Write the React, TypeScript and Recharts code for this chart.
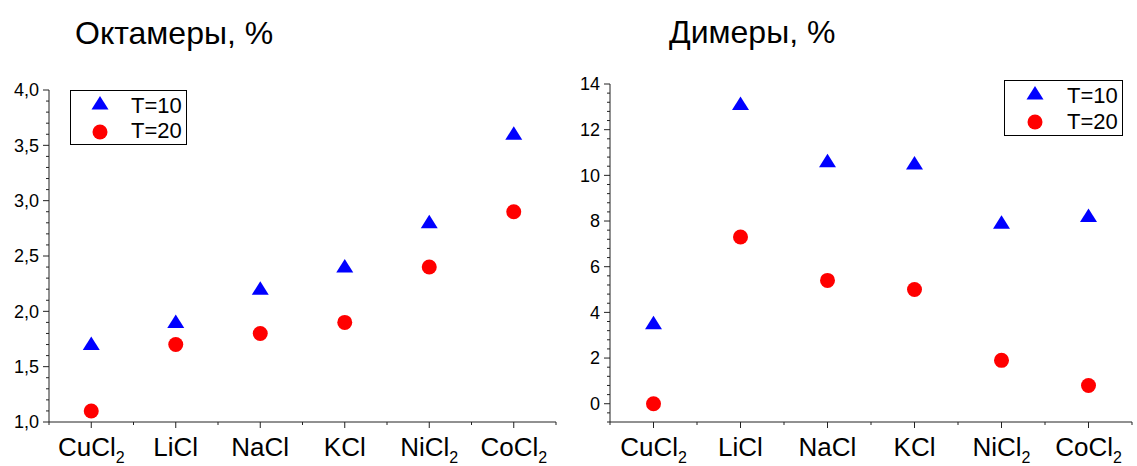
import React from 'react';
import { ScatterChart, Scatter, XAxis, YAxis, Legend } from 'recharts';

const categories = ['CuCl2', 'LiCl', 'NaCl', 'KCl', 'NiCl2', 'CoCl2'];
const seriesNames = ['T=10', 'T=20'];

const octT10 = [1.7, 1.9, 2.2, 2.4, 2.8, 3.6];
const octT20 = [1.1, 1.7, 1.8, 1.9, 2.4, 2.9];

const dimT10 = [3.5, 13.1, 10.6, 10.5, 7.9, 8.2];
const dimT20 = [0.0, 7.3, 5.4, 5.0, 1.9, 0.8];

const octMajorTicks = [1.0, 1.5, 2.0, 2.5, 3.0, 3.5, 4.0];
const octMajorLabels = ['1,0', '1,5', '2,0', '2,5', '3,0', '3,5', '4,0'];
const octMinorStep = 0.1;
const octDomain: [number, number] = [1.0, 4.0];

const dimMajorTicks = [0, 2, 4, 6, 8, 10, 12, 14];
const dimMajorLabels = ['0', '2', '4', '6', '8', '10', '12', '14'];
const dimMinorStep = 0.4;
const dimDomain: [number, number] = [-0.8, 14];

const titles = ['Октамеры, %', 'Димеры, %'];

const FONT = '"Liberation Sans", Arial, sans-serif';
const AXIS = '#222';
const BLUE = '#0000ff';
const RED = '#ff0000';

const toData = (vals: number[]) => vals.map((v, i) => ({ x: i + 1, y: v }));

const buildTicks = (domain: [number, number], step: number) => {
  const out: number[] = [];
  const n = Math.round((domain[1] - domain[0]) / step);
  for (let i = 0; i <= n; i++) out.push(Math.round((domain[0] + i * step) * 1000) / 1000);
  return out;
};

const xTicks: number[] = [];
for (let i = 0; i <= categories.length * 2; i++) xTicks.push(0.5 + i * 0.5);

const Triangle = (props: any) => {
  const { cx, cy } = props;
  if (cx == null || cy == null) return null;
  return <polygon points={`${cx},${cy - 8} ${cx + 8.5},${cy + 5.5} ${cx - 8.5},${cy + 5.5}`} fill={BLUE} />;
};
const Dot = (props: any) => {
  const { cx, cy } = props;
  if (cx == null || cy == null) return null;
  return <circle cx={cx} cy={cy} r={7.5} fill={RED} />;
};

const makeYTick = (majors: number[], labels: string[]) => (props: any) => {
  const { x, y, payload } = props;
  const v = payload.value;
  const idx = majors.findIndex((m) => Math.abs(m - v) < 1e-6);
  return (
    <g>
      <line x1={x} x2={x - (idx >= 0 ? 6 : 3)} y1={y} y2={y} stroke={AXIS} strokeWidth={1} />
      {idx >= 0 && (
        <text x={x - 10} y={y} dy="0.35em" textAnchor="end" fontSize={18} fontFamily={FONT} fill="#000">
          {labels[idx]}
        </text>
      )}
    </g>
  );
};

const XTick = (props: any) => {
  const { x, y, payload } = props;
  const v = payload.value;
  const isMajor = Math.abs(v - Math.round(v)) < 1e-6;
  const label = isMajor ? categories[Math.round(v) - 1] : null;
  let main = '';
  let sub = '';
  if (label) {
    const m = label.match(/^(.*?)(\d+)$/);
    if (m) {
      main = m[1];
      sub = m[2];
    } else main = label;
  }
  return (
    <g>
      <line x1={x} x2={x} y1={y} y2={y + (isMajor ? 6 : 3)} stroke={AXIS} strokeWidth={1} />
      {label && (
        <text x={x} y={y + 34} textAnchor="middle" fontSize={26} fontFamily={FONT} fill="#000">
          <tspan>{main}</tspan>
          {sub && (
            <tspan dy={7} fontSize={16}>
              {sub}
            </tspan>
          )}
        </text>
      )}
    </g>
  );
};

const LegendBox = ({ w, h, tx, triY, dotY, textX, t1, t2 }: any) => (
  <svg width={w} height={h} style={{ display: 'block' }}>
    <rect x={0.5} y={0.5} width={w - 1} height={h - 1} fill="#fff" stroke="#000" strokeWidth={1} />
    <polygon points={`${tx},${triY - 8} ${tx + 8.5},${triY + 5.5} ${tx - 8.5},${triY + 5.5}`} fill={BLUE} />
    <circle cx={tx} cy={dotY} r={7.5} fill={RED} />
    <text x={textX} y={t1} fontSize={22} fontFamily={FONT} fill="#000">{seriesNames[0]}</text>
    <text x={textX} y={t2} fontSize={22} fontFamily={FONT} fill="#000">{seriesNames[1]}</text>
  </svg>
);

export default function App() {
  const octYTicks = buildTicks(octDomain, octMinorStep);
  const dimYTicks = buildTicks(dimDomain, dimMinorStep);
  return (
    <div style={{ position: 'absolute', left: 0, top: 0, width: 1137, height: 466, background: '#fff', fontFamily: FONT }}>
      <div style={{ position: 'absolute', left: 75, top: 17, fontSize: 32, lineHeight: '32px', whiteSpace: 'nowrap', color: '#000' }}>
        {titles[0]}
      </div>
      <div style={{ position: 'absolute', left: 669, top: 16, fontSize: 32, lineHeight: '32px', whiteSpace: 'nowrap', color: '#000' }}>
        {titles[1]}
      </div>

      <div style={{ position: 'absolute', left: 0, top: 0 }}>
        <ScatterChart width={570} height={466} margin={{ top: 90, right: 14, bottom: 0, left: 0 }}>
          <XAxis
            type="number"
            dataKey="x"
            domain={[0.5, categories.length + 0.5]}
            ticks={xTicks}
            interval={0}
            tickSize={0}
            tickMargin={0}
            tickLine={false}
            height={44}
            stroke={AXIS}
            tick={XTick}
            allowDataOverflow
          />
          <YAxis
            type="number"
            dataKey="y"
            domain={octDomain}
            ticks={octYTicks}
            interval={0}
            tickSize={0}
            tickMargin={0}
            tickLine={false}
            width={49}
            stroke={AXIS}
            tick={makeYTick(octMajorTicks, octMajorLabels)}
            allowDataOverflow
          />
          <Legend
            layout="vertical"
            align="center"
            verticalAlign="middle"
            wrapperStyle={{ left: 70, top: 90, width: 117, height: 55 }}
            content={() => <LegendBox w={117} h={55} tx={30} triY={14} dotY={42} textX={61} t1={23} t2={48} />}
          />
          <Scatter name={seriesNames[0]} data={toData(octT10)} dataKey="y" fill={BLUE} shape={Triangle} isAnimationActive={false} />
          <Scatter name={seriesNames[1]} data={toData(octT20)} dataKey="y" fill={RED} shape={Dot} isAnimationActive={false} />
        </ScatterChart>
      </div>

      <div style={{ position: 'absolute', left: 560, top: 0 }}>
        <ScatterChart width={577} height={466} margin={{ top: 84, right: 5, bottom: 0, left: 0 }}>
          <XAxis
            type="number"
            dataKey="x"
            domain={[0.5, categories.length + 0.5]}
            ticks={xTicks}
            interval={0}
            tickSize={0}
            tickMargin={0}
            tickLine={false}
            height={44}
            stroke={AXIS}
            tick={XTick}
            allowDataOverflow
          />
          <YAxis
            type="number"
            dataKey="y"
            domain={dimDomain}
            ticks={dimYTicks}
            interval={0}
            tickSize={0}
            tickMargin={0}
            tickLine={false}
            width={50}
            stroke={AXIS}
            tick={makeYTick(dimMajorTicks, dimMajorLabels)}
            allowDataOverflow
          />
          <Legend
            layout="vertical"
            align="center"
            verticalAlign="middle"
            wrapperStyle={{ left: 444, top: 80, width: 119, height: 56 }}
            content={() => <LegendBox w={119} h={56} tx={31} triY={14} dotY={42} textX={63} t1={23} t2={49} />}
          />
          <Scatter name={seriesNames[0]} data={toData(dimT10)} dataKey="y" fill={BLUE} shape={Triangle} isAnimationActive={false} />
          <Scatter name={seriesNames[1]} data={toData(dimT20)} dataKey="y" fill={RED} shape={Dot} isAnimationActive={false} />
        </ScatterChart>
      </div>
    </div>
  );
}
